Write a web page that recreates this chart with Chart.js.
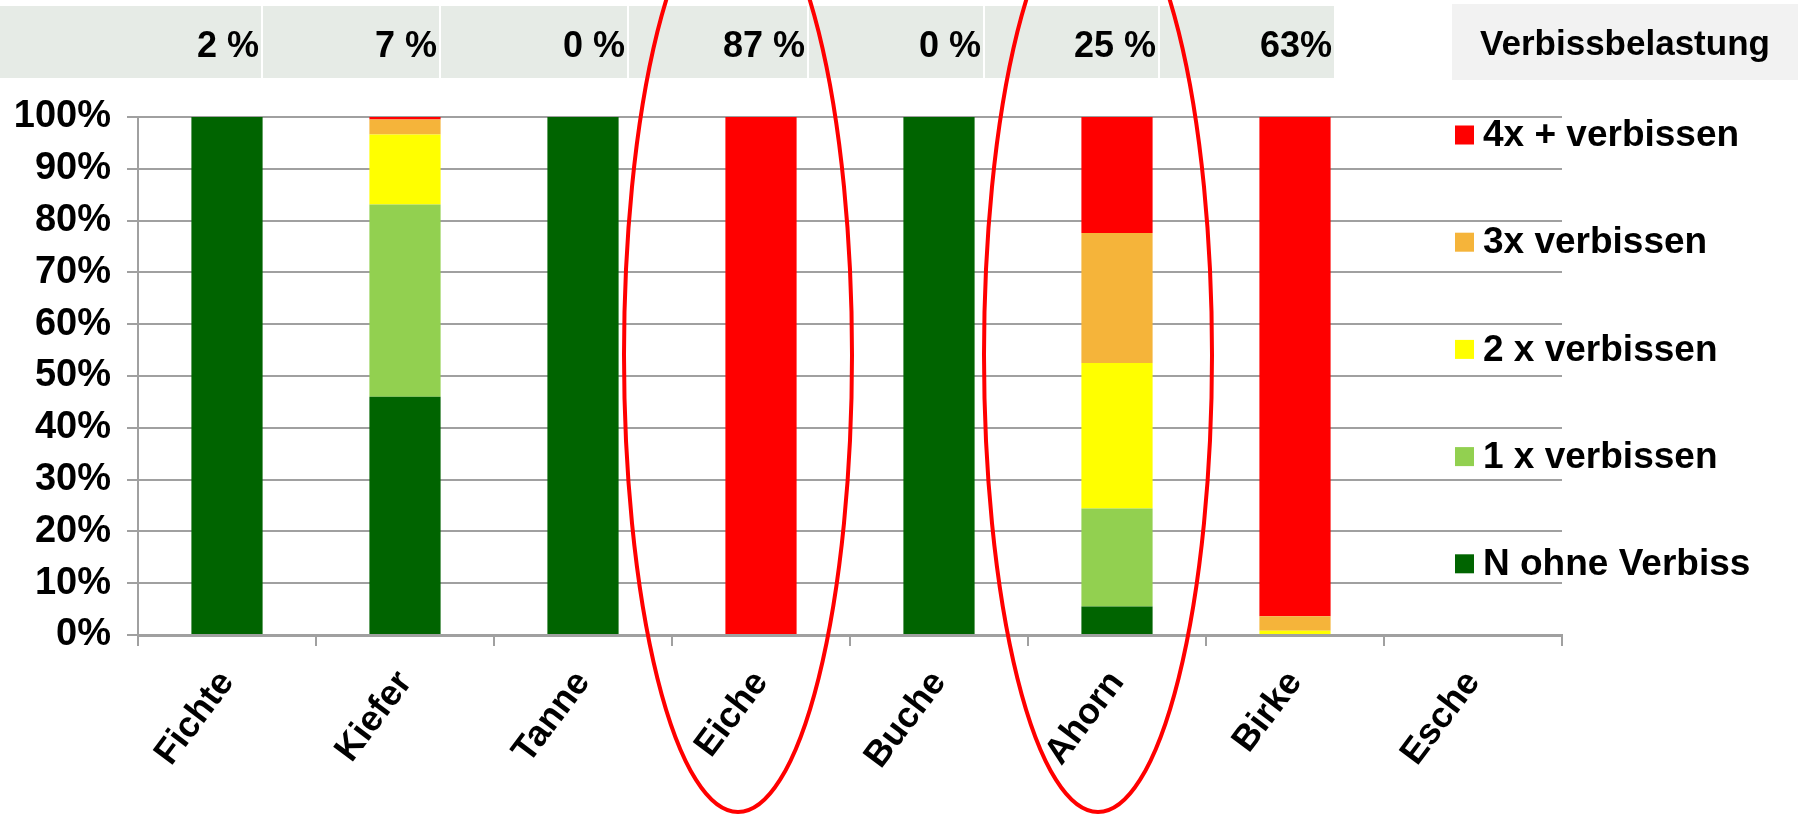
<!DOCTYPE html>
<html>
<head>
<meta charset="utf-8">
<script src="https://cdn.jsdelivr.net/npm/chart.js@4"></script>
<style>
  html, body { margin: 0; padding: 0; background: #ffffff; }
  #wrap { position: relative; width: 1798px; height: 815px; }
  canvas { display: block; }
</style>
</head>
<body>
<div id="wrap"><canvas id="c" width="1798" height="815"></canvas></div>
<script>
// ---- Data ----
const categories = ["Fichte", "Kiefer", "Tanne", "Eiche", "Buche", "Ahorn", "Birke", "Esche"];
const seriesNames = ["N ohne Verbiss", "1 x verbissen", "2 x verbissen", "3x verbissen", "4x + verbissen"];
const nOhne   = [100, 46.0, 100, 0,   100, 5.5,  0,    0];
const einmal  = [0,   37.1, 0,   0,   0,   18.9, 0,    0];
const zweimal = [0,   13.5, 0,   0,   0,   28.1, 0.8,  0];
const dreimal = [0,   2.9,  0,   0,   0,   25.1, 2.8,  0];
const viermal = [0,   0.5,  0,   100, 0,   22.4, 96.4, 0];
const headerLabels = ["2 %", "7 %", "0 %", "87 %", "0 %", "25 %", "63%"];
const headerTitle = "Verbissbelastung";
const yTickValues = [0, 10, 20, 30, 40, 50, 60, 70, 80, 90, 100];
const highlighted = ["Eiche", "Ahorn"];

// ---- Styles / layout ----
const colors = ["#006400", "#92d050", "#ffff00", "#f5b43a", "#ff0000"];
const FONT = "'Liberation Sans', Arial, Helvetica, sans-serif";
const headerEdges = [[0, 261], [263, 439], [441, 627], [629, 807], [809, 983], [985, 1158], [1160, 1334]];
const headerBox = { top: 6, bottom: 78, fill: "#e6ebe6" };
const titleBox = { left: 1452, right: 1798, top: 4, bottom: 80, fill: "#f2f2f2" };
const ellipseDx = { "Eiche": -23, "Ahorn": -19 };

const datasets = [nOhne, einmal, zweimal, dreimal, viermal].map((d, i) => ({
  label: seriesNames[i],
  data: d,
  backgroundColor: colors[i],
  borderWidth: 0,
  categoryPercentage: 0.40,
  barPercentage: 1.0
}));

const headerPlugin = {
  id: "header",
  beforeDraw(chart) {
    const ctx = chart.ctx;
    ctx.save();
    ctx.fillStyle = headerBox.fill;
    headerEdges.forEach(([l, r]) => ctx.fillRect(l, headerBox.top, r - l, headerBox.bottom - headerBox.top));
    ctx.fillStyle = titleBox.fill;
    ctx.fillRect(titleBox.left, titleBox.top, titleBox.right - titleBox.left, titleBox.bottom - titleBox.top);
    ctx.fillStyle = "#000";
    ctx.font = "bold 36px " + FONT;
    ctx.textBaseline = "middle";
    ctx.textAlign = "right";
    headerLabels.forEach((t, i) => ctx.fillText(t, headerEdges[i][1] - 2, 47));
    ctx.font = "bold 35px " + FONT;
    ctx.textAlign = "center";
    ctx.fillText(headerTitle, (titleBox.left + titleBox.right) / 2, 45);
    ctx.restore();
  }
};

const legendPlugin = {
  id: "customLegend",
  afterDraw(chart) {
    const ctx = chart.ctx;
    ctx.save();
    ctx.font = "bold 37px " + FONT;
    ctx.textBaseline = "middle";
    ctx.textAlign = "left";
    const items = chart.data.datasets.slice().reverse();
    items.forEach((ds, i) => {
      const cy = 135 + 107.2 * i;
      ctx.fillStyle = ds.backgroundColor;
      ctx.fillRect(1455, cy - 9.5, 19, 19);
      ctx.fillStyle = "#000";
      ctx.fillText(ds.label, 1483, cy + 1);
    });
    ctx.restore();
  }
};

const ellipsePlugin = {
  id: "ellipses",
  afterDraw(chart) {
    const ctx = chart.ctx;
    const xs = chart.scales.x;
    ctx.save();
    ctx.strokeStyle = "#ff0000";
    ctx.lineWidth = 4;
    highlighted.forEach(name => {
      const cx = xs.getPixelForValue(categories.indexOf(name)) + ellipseDx[name];
      ctx.beginPath();
      ctx.ellipse(cx, 355, 114, 457, 0, 0, Math.PI * 2);
      ctx.stroke();
    });
    ctx.restore();
  }
};

new Chart(document.getElementById("c"), {
  type: "bar",
  data: { labels: categories, datasets },
  options: {
    responsive: false,
    devicePixelRatio: 1,
    animation: false,
    layout: { padding: { top: 117, right: 236, left: 0, bottom: 0 } },
    plugins: { legend: { display: false }, tooltip: { enabled: false } },
    scales: {
      x: {
        stacked: true,
        afterFit(scale) { scale.height = 180; },
        grid: { display: true, drawOnChartArea: false, drawTicks: true, tickLength: 11, color: "#a0a0a0", lineWidth: 2, offset: true },
        border: { display: true, color: "#a0a0a0", width: 3 },
        ticks: {
          color: "#000",
          font: { family: FONT, size: 36, weight: "bold" },
          minRotation: 53, maxRotation: 53,
          padding: 17,
          autoSkip: false
        }
      },
      y: {
        stacked: true,
        min: 0, max: 100,
        afterFit(scale) { scale.width = 138; },
        afterBuildTicks(scale) { scale.ticks = yTickValues.map(v => ({ value: v })); },
        grid: { color: "#a0a0a0", lineWidth: 2, tickLength: 11, drawTicks: true },
        border: { display: true, color: "#a0a0a0", width: 2 },
        ticks: {
          color: "#000",
          font: { family: FONT, size: 38, weight: "bold" },
          padding: 16,
          callback: v => v + "%"
        }
      }
    }
  },
  plugins: [headerPlugin, legendPlugin, ellipsePlugin]
});
</script>
</body>
</html>
